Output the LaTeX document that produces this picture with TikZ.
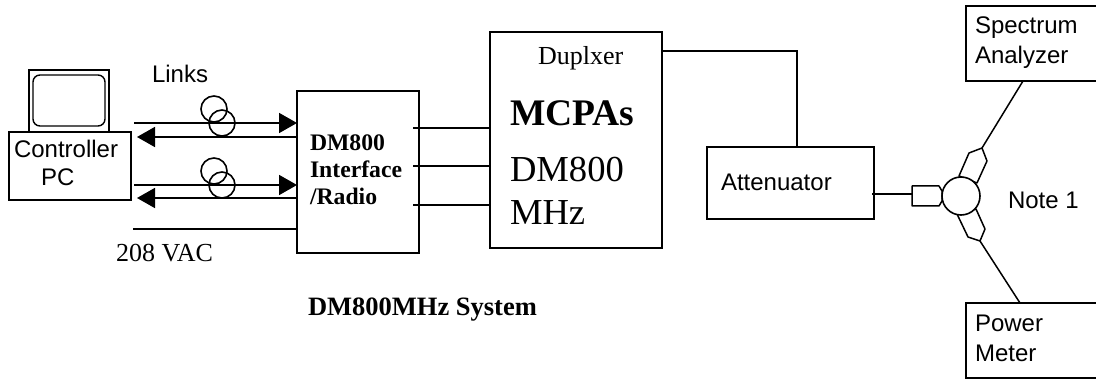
\documentclass[tikz,border=0pt]{standalone}
\usepackage{fontspec}
\setmainfont{Liberation Serif}
\setsansfont{Liberation Sans}
\usetikzlibrary{arrows.meta}
\tikzset{
box/.style={draw, line width=2pt, inner sep=0pt, outer sep=0pt},
wire/.style={line width=1.8pt},
sig/.style={wire, -{Triangle[length=18pt,width=20pt]}, shorten >=0pt},
coil/.style={draw, circle, line width=1.6pt, minimum size=26pt, inner sep=0pt},
port/.style={draw, line width=1.5pt, fill=white, line join=round},
lbl/.style={anchor=base west, inner sep=0pt, outer sep=0pt},
sans/.style={lbl, font=\fontsize{24}{28}\selectfont\sffamily},
ser/.style={lbl, font=\fontsize{26}{30}\selectfont},
bold/.style={lbl, font=\fontsize{23.7}{28}\selectfont\bfseries},
big/.style={lbl, font=\fontsize{36.6}{42}\selectfont}
}
\begin{document}
\begin{tikzpicture}
[x=1pt, y=-1pt]
\useasboundingbox (0,0) rectangle (1096,379);
\clip (0,0) rectangle (1096,379);

% boxes
\node (monitor) [box, minimum width=80pt, minimum height=62pt] at (69,101) {};
\node (screen) [box, line width=1.4pt, rounded corners=7pt, minimum width=72pt, minimum height=51pt] at (69,100.5) {};
\node (pc) [box, minimum width=122pt, minimum height=68pt] at (70,166) {};
\node (radio) [box, minimum width=122pt, minimum height=162pt] at (358,172) {};
\node (mcpa) [box, minimum width=172pt, minimum height=216pt] at (576,140) {};
\node (atten) [box, minimum width=167pt, minimum height=72pt] at (790.5,183) {};
\node (spec) [box, minimum width=134pt, minimum height=75pt] at (1033,43.5) {};
\node (power) [box, minimum width=134pt, minimum height=75pt] at (1033,340.5) {};

% free ends and tap points
\coordinate (pcA) at (134,123);
\coordinate (pcB) at (137,137);
\coordinate (pcC) at (134,185);
\coordinate (pcD) at (137,198);
\coordinate (pcE) at (133,229);
\coordinate (radioA) at (297,123);
\coordinate (radioB) at (297,137);
\coordinate (radioC) at (297,185);
\coordinate (radioD) at (297,198);
\coordinate (radioE) at (297,229);
\coordinate (radioF) at (413,128);
\coordinate (radioG) at (413,166);
\coordinate (radioH) at (413,205);
\coordinate (mcpaF) at (490,128);
\coordinate (mcpaG) at (490,166);
\coordinate (mcpaH) at (490,205);
\coordinate (mcpaOut) at (662,51);
\coordinate (bend) at (797,51);
\coordinate (attenIn) at (797,147);
\coordinate (attenOut) at (872,194);
\coordinate (portL) at (912,194);
\coordinate (portU) at (982,148);
\coordinate (portD) at (980,241);
\coordinate (specIn) at (1023,81);
\coordinate (powerIn) at (1020,303);

% links
\draw[sig] (pcA) -- (radioA);
\draw[sig] (radioB) -- (pcB);
\draw[sig] (pcC) -- (radioC);
\draw[sig] (radioD) -- (pcD);
\draw[wire] (pcE) -- (radioE);
\node (coilA) [coil] at (214,109) {};
\node (coilB) [coil] at (222,123) {};
\node (coilC) [coil] at (214,171) {};
\node (coilD) [coil] at (222,185) {};

\draw[wire] (radioF) -- (mcpaF);
\draw[wire] (radioG) -- (mcpaG);
\draw[wire] (radioH) -- (mcpaH);
\draw[wire] (mcpaOut) -- (bend) -- (attenIn);
\draw[wire] (attenOut) -- (portL);
\draw[wire, line width=1.5pt] (portU) -- (specIn);
\draw[wire, line width=1.5pt] (portD) -- (powerIn);

% three port junction
\draw[port] (912,186) -- (939,186) -- (942,191) -- (942,201) -- (939,206) -- (912,206) -- cycle;
\draw[port] (959,176) -- (969,153) -- (portU) -- (987,161) -- (977,183) -- cycle;
\draw[port] (957,214) -- (968,237) -- (portD) -- (985,229) -- (976,209) -- cycle;
\node (junction) [draw, circle, line width=1.6pt, fill=white, minimum size=38pt, inner sep=0pt] at (961,196) {};

% texts
\node (tLinks) [sans] at (152,83) {Links};
\node (tCtrl) [sans] at (14,158) {Controller};
\node (tPc) [sans] at (41,186) {PC};
\node (tVac) [ser] at (116,262) {208 VAC};
\node (tDm) [bold] at (310,151) {DM800};
\node (tIf) [bold] at (310,178) {Interface};
\node (tRadio) [bold] at (310,205) {/Radio};
\node (tDup) [ser] at (538,65) {Duplxer};
\node (tMcpa) [big, font=\fontsize{37.5}{42}\selectfont\bfseries] at (510,126) {MCPAs};
\node (tBand) [big] at (510,182) {DM800};
\node (tMhz) [big] at (510,225) {MHz};
\node (tAtten) [sans] at (721,191) {Attenuator};
\node (tSpec) [sans] at (975,34) {Spectrum};
\node (tAna) [sans] at (975,64) {Analyzer};
\node (tNote) [sans] at (1008,209) {Note 1};
\node (tPow) [sans] at (975,332) {Power};
\node (tMet) [sans] at (975,362) {Meter};
\node (tSys) [ser, font=\fontsize{26.5}{30}\selectfont\bfseries] at (308,316) {DM800MHz System};
\end{tikzpicture}
\end{document}
